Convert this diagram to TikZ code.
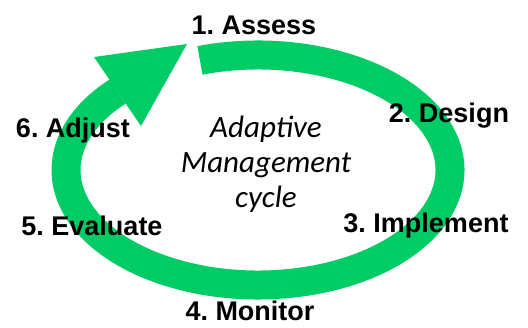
\documentclass[tikz,border=0pt]{standalone}
\usepackage{fontspec}
\setmainfont{Liberation Sans}
\newfontfamily\cyclefont{Carlito}
\usepackage{tikz}
\usetikzlibrary{positioning,calc}
\definecolor{cyclegreen}{RGB}{0,204,102}
\tikzset{
	ring/.style={
		draw=cyclegreen,
		line width=29pt,
		line cap=butt,
	},
	step label/.style={
		anchor=base,
		inner sep=0pt,
		font=\fontsize{27}{30}\selectfont\bfseries\frenchspacing,
	},
	centre label/.style={
		align=center,
		inner sep=0pt,
		font=\fontsize{31}{35}\selectfont\cyclefont\itshape,
	},
}

\begin{document}
\begin{tikzpicture}[x=1pt,y=-1pt]
		\useasboundingbox (0,0) rectangle (528,328);
		\coordinate (ctr) at (258,170);
		
		% the cycle ring, open at the top
		\draw[ring] ($(ctr)+(-107.6:192 and 115)$) arc[start angle=-107.6, end angle=223, x radius=192, y radius=115] coordinate (ring-end);
		\fill[cyclegreen] (94,57) -- (187,44) -- (141,126) -- cycle;
		
		\node[centre label] (cycle) at (266,164) {Adaptive\\Management\\cycle};
		
		\node[step label] (assess) at (254,35) {1. Assess};
		\node[step label] (design) at (449,123) {2. Design};
		\node[step label] (implement) at (426,233) {3. Implement};
		\node[step label] (monitor) at (250,321) {4. Monitor};
		\node[step label] (evaluate) at (92,236) {5. Evaluate};
		\node[step label] (adjust) at (73,138) {6. Adjust};
	\end{tikzpicture}
\end{document}
